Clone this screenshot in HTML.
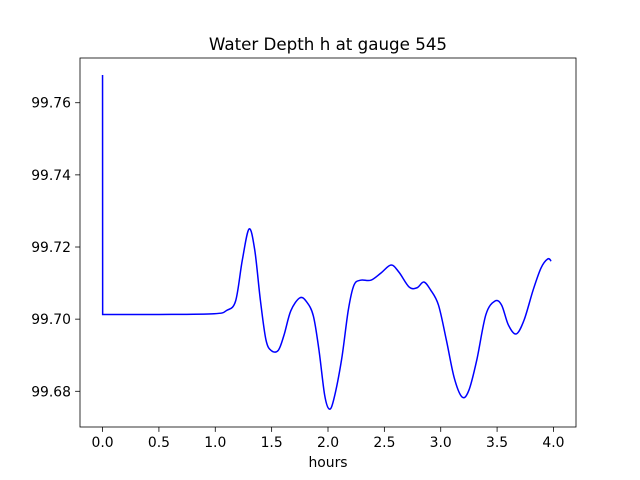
<!DOCTYPE html>
<html><head><meta charset="utf-8"><style>body{margin:0;background:#fff}svg{display:block;font-family:"DejaVu Sans","Liberation Sans",sans-serif}</style></head>
<body>
<svg id="chart" width="640" height="480"></svg>
<script>
const hours=[0,0.001,0.5,0.99,1.1,1.18,1.24,1.3,1.35,1.4,1.45,1.5,1.56,1.61,1.67,1.75,1.81,1.87,1.92,1.97,2.01,2.05,2.12,2.18,2.23,2.29,2.38,2.47,2.56,2.63,2.72,2.79,2.85,2.91,2.98,3.05,3.12,3.19,3.25,3.32,3.4,3.48,3.54,3.6,3.67,3.74,3.82,3.89,3.95,3.98];
const depth=[99.7677,99.7013,99.7013,99.7015,99.7024,99.7050,99.7164,99.7250,99.7192,99.7053,99.6942,99.6912,99.6914,99.6956,99.7023,99.7059,99.7048,99.7009,99.6914,99.6790,99.6751,99.6776,99.6887,99.7025,99.7094,99.7108,99.7108,99.7128,99.7150,99.7130,99.7089,99.7087,99.7103,99.7081,99.7039,99.6942,99.6837,99.6784,99.6803,99.6887,99.7012,99.7050,99.7039,99.6984,99.6959,99.6998,99.7081,99.7142,99.7167,99.7161];
const xTicks=[0,0.5,1,1.5,2,2.5,3,3.5,4];
const xTickLabels=["0.0","0.5","1.0","1.5","2.0","2.5","3.0","3.5","4.0"];
const yTicks=[99.68,99.70,99.72,99.74,99.76];
const yTickLabels=["99.68","99.70","99.72","99.74","99.76"];
const L=80,R=576,T=58,B=427,x0=-0.2,x1=4.2,y0=99.6701,y1=99.7724;
const sx=v=>L+(v-x0)/(x1-x0)*(R-L), sy=v=>B-(v-y0)/(y1-y0)*(B-T);
const svg=document.getElementById('chart');const NS='http://www.w3.org/2000/svg';
function mk(t,a,p){const e=document.createElementNS(NS,t);for(const k in a)e.setAttribute(k,a[k]);(p||svg).appendChild(e);return e;}
const P=hours.map((h,i)=>[sx(h),sy(depth[i])]);
let d='M'+P[0][0]+','+P[0][1]+' L'+P[1][0]+','+P[1][1];
for(let i=1;i<P.length-1;i++){const p0=P[i-1>=1?i-1:1],p1=P[i],p2=P[i+1],p3=P[Math.min(i+2,P.length-1)];
const c1x=p1[0]+(p2[0]-p0[0])/6,c1y=p1[1]+(p2[1]-p0[1])/6,c2x=p2[0]-(p3[0]-p1[0])/6,c2y=p2[1]-(p3[1]-p1[1])/6;
d+=' C'+c1x+','+c1y+' '+c2x+','+c2y+' '+p2[0]+','+p2[1];}
const line=mk('path',{d:d,fill:'none',stroke:'#0000ff','stroke-width':1.5});


const frame=mk('rect',{x:L,y:T,width:R-L,height:B-T,fill:'none',stroke:'#000','stroke-width':0.8});


xTicks.forEach((v,i)=>{const x=sx(v);mk('line',{x1:x,x2:x,y1:B,y2:B+4.9,stroke:'#000','stroke-width':0.8});
const t=mk('text',{x:x,y:B+20,'text-anchor':'middle','font-size':13.9});t.textContent=xTickLabels[i];

});
yTicks.forEach((v,i)=>{const y=sy(v);mk('line',{x1:L-4.9,x2:L,y1:y,y2:y,stroke:'#000','stroke-width':0.8});
const t=mk('text',{x:L-9,y:y+5,'text-anchor':'end','font-size':13.9});t.textContent=yTickLabels[i];

});
const xl=mk('text',{x:(L+R)/2,y:467,'text-anchor':'middle','font-size':13.9});xl.textContent='hours';


const ti=mk('text',{x:(L+R)/2,y:50,'text-anchor':'middle','font-size':16.7});ti.textContent='Water Depth h at gauge 545';


</script>
</body></html>
